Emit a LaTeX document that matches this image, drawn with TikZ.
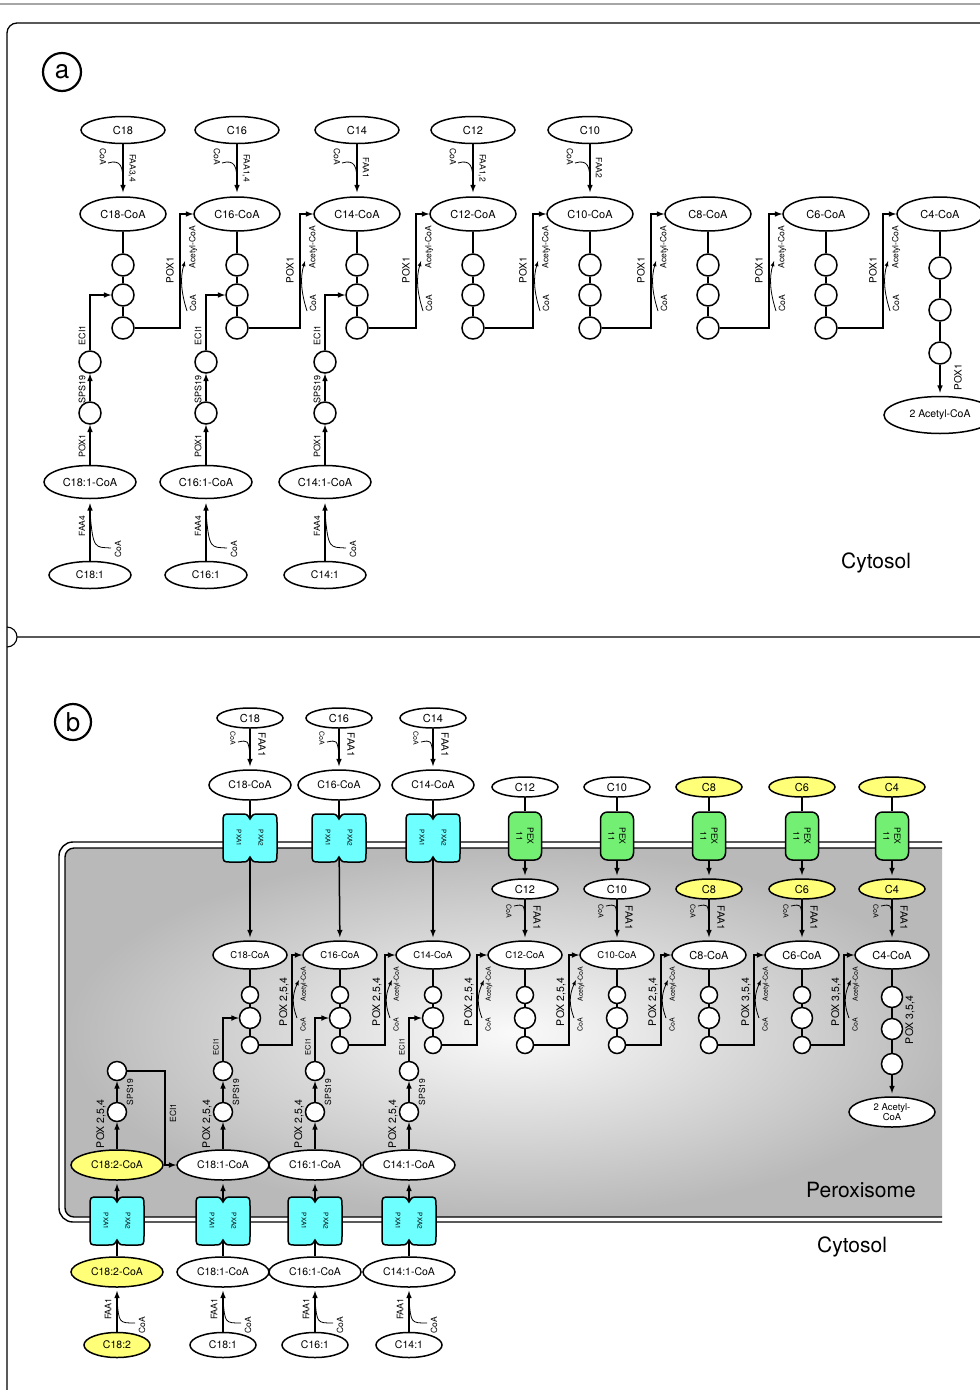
\documentclass[tikz,border=0pt]{standalone}
\usepackage{fontspec}
\setmainfont{TeX Gyre Heros}
\usetikzlibrary{shapes.geometric}

\definecolor{pxacyan}{RGB}{110,255,255}
\definecolor{pexgreen}{RGB}{115,240,115}
\definecolor{fayellow}{RGB}{255,255,120}
\newcommand{\fs}[1]{\fontsize{#1}{#1}\selectfont}

\begin{document}
\begin{tikzpicture}[x=1pt, y=-1pt,
  sub/.style={draw, ellipse, line width=1.5pt, inner sep=0pt, fill=white},
  circ/.style={draw, circle, line width=1.5pt, inner sep=0pt, fill=white},
  rxn/.style={-latex, line width=1.5pt},
  lnk/.style={line width=1.5pt},
  side/.style={line width=0.8pt},
  lab/.style={inner sep=0pt, font=\fs{8.5}}]
\useasboundingbox (0,0) rectangle (980,1390);

%%%%%%%%%%%%%-------------frame
\draw[gray!70, line width=1.5pt] (0,4) -- (980,4);
\draw[line width=1.3pt, rounded corners=10pt] (980,23) -- (7,23) -- (7,1390);
\draw[line width=1.1pt] (7,627) arc[start angle=-90, end angle=90, radius=10] (17,637) -- (980,637);

%%%%%%%%%%%%%-------------(a) cytosol
\node[draw, circle, line width=2.2pt, minimum size=38pt, inner sep=0pt, font=\fs{26}] (pa) at (62,72) {a};

\foreach \n/\x in {18/123, 16/237, 14/357, 12/473, 10/590, 8/708, 6/826, 4/940}{
\node[sub, minimum width=86pt, minimum height=34pt, font=\fs{11}] (acoa\n) at (\x,214) {C\n-CoA};}

\foreach \n/\x/\e in {18/123/{FAA3,4}, 16/237/{FAA1,4}, 14/357/FAA1, 12/473/{FAA1,2}, 10/590/FAA2}{
\node[sub, minimum width=84pt, minimum height=27pt, font=\fs{11}] (afa\n) at (\x,130) {C\n};
\draw[rxn, shorten >=4pt] (afa\n) -- (acoa\n);
\node[lab, rotate=-90] at (\x+9,168) {\e};
\node[lab, rotate=-90] at (\x-20,157) {CoA};
\draw[side] (\x-15,163) .. controls (\x-2,159) and (\x,167) .. (\x,182);
}

% beta-oxidation steps
\foreach \n/\x in {18/123, 16/237, 14/357, 12/473, 10/590, 8/708, 6/826}{
\node[circ, minimum size=22pt] (aca\n) at (\x,265) {};
\node[circ, minimum size=22pt] (acb\n) at (\x,295) {};
\node[circ, minimum size=22pt] (acc\n) at (\x,328) {};
\draw[lnk] (acoa\n) -- (aca\n) -- (acb\n) -- (acc\n);
}
\node[circ, minimum size=22pt] (aca4) at (940,268) {};
\node[circ, minimum size=22pt] (acb4) at (940,310) {};
\node[circ, minimum size=22pt] (acc4) at (940,353) {};
\draw[lnk] (acoa4) -- (aca4) -- (acb4) -- (acc4);
\node[sub, minimum width=112pt, minimum height=37pt, font=\fs{10.5}] (aace) at (940,415) {2 Acetyl-CoA};
\draw[rxn, shorten >=3pt] (acc4) -- (aace);
\node[lab, rotate=90, font=\fs{10}] at (958,377) {POX1};

\foreach \i/\j/\v in {18/16/180, 16/14/300, 14/12/416, 12/10/533, 10/8/651, 8/6/769, 6/4/883}{
\draw[rxn] (acc\i) -| (\v,214) -- (acoa\j);
\node[lab, rotate=90, font=\fs{10}] at (\v-10,270) {POX1};
\node[lab, rotate=90] at (\v+13,247) {Acetyl-CoA};
\node[lab, rotate=90] at (\v+13,303) {CoA};
\draw[side, -latex] (\v+7,311) .. controls (\v+1,292) and (\v,278) .. (\v+5,261);
}

% unsaturated
\foreach \n/\x in {18/90, 16/206, 14/325}{
\node[sub, minimum width=82pt, minimum height=27pt, font=\fs{10.5}] (au\n) at (\x,575) {C\n:1};
\node[sub, minimum width=92pt, minimum height=33pt, font=\fs{11}] (aucoa\n) at (\x,482) {C\n:1-CoA};
\node[circ, minimum size=22pt] (aup\n) at (\x,413) {};
\node[circ, minimum size=22pt] (aus\n) at (\x,362) {};
\draw[rxn, shorten >=4pt] (au\n) -- (aucoa\n);
\draw[rxn] (aucoa\n) -- (aup\n);
\draw[rxn] (aup\n) -- (aus\n);
\draw[rxn] (aus\n) |- (acb\n);
\node[lab, rotate=90] at (\x-8,526) {FAA4};
\node[lab, rotate=90] at (\x+28,549) {CoA};
\draw[side] (\x,512) .. controls (\x+3,550) and (\x+5,547) .. (\x+21,548);
\node[lab, rotate=90, font=\fs{9}] at (\x-8,446) {POX1};
\node[lab, rotate=90, font=\fs{9}] at (\x-8,389) {SPS19};
\node[lab, rotate=90, font=\fs{9}] at (\x-8,335) {ECI1};
}
\node[font=\fs{21}] (cyta) at (876,563) {Cytosol};

%%%%%%%%%%%%%-------------(b) peroxisome
\begin{scope}
\clip (0,640) rectangle (942,1390);
\shade[inner color=gray!4, outer color=gray!55, rounded corners=9pt] (65,848) rectangle (960,1217);
\draw[line width=1.4pt, rounded corners=9pt] (65,848) rectangle (960,1217);
\draw[line width=1.4pt, rounded corners=14pt] (59,842) rectangle (966,1222);
\end{scope}
\node[draw, circle, line width=2.2pt, minimum size=36pt, inner sep=0pt, font=\fs{26}] (pb) at (73,722) {b};
\node[font=\fs{21}] (perox) at (861,1190) {Peroxisome};
\node[font=\fs{21}] (cytb) at (852,1247) {Cytosol};

% transporters
\foreach \k/\x/\y in {t18/250/838, t16/339/838, t14/433/838, a/117/1221, b/223/1221, c/315/1221, d/409/1221}{
\draw[line width=1.5pt, fill=pxacyan] (\x,\y-19) .. controls (\x-3,\y-24) .. (\x-9,\y-24) -- (\x-19,\y-24)
  .. controls (\x-27,\y-24) .. (\x-27,\y-15) -- (\x-27,\y+15) .. controls (\x-27,\y+24) .. (\x-19,\y+24)
  -- (\x-9,\y+24) .. controls (\x-3,\y+24) .. (\x,\y+19) .. controls (\x+3,\y+24) .. (\x+9,\y+24)
  -- (\x+19,\y+24) .. controls (\x+27,\y+24) .. (\x+27,\y+15) -- (\x+27,\y-15)
  .. controls (\x+27,\y-24) .. (\x+19,\y-24) -- (\x+9,\y-24) .. controls (\x+3,\y-24) .. (\x,\y-19) -- cycle;
\node[minimum width=54pt, minimum height=38pt, inner sep=0pt] (bx\k) at (\x,\y) {};
\node[lab, rotate=-90, font=\fs{6.5}] at (\x-11,\y) {PXA1};
\node[lab, rotate=-90, font=\fs{6.5}] at (\x+11,\y) {PXA2};
}
\foreach \n/\x in {12/525, 10/617, 8/709, 6/802, 4/892}{
\node[draw, fill=pexgreen, line width=1.5pt, rounded corners=7pt, rotate=-90, minimum width=48pt,
  minimum height=33pt, inner sep=0pt, align=center, font=\fontsize{8.5}{11}\selectfont] (bpex\n) at (\x,836) {PEX\\11};
}

% inner acyl-CoA row
\foreach \n/\x/\f in {18/250/9.5, 16/340/9.5, 14/433/9.5, 12/525/9.5, 10/617/9.5, 8/709/11, 6/802/11, 4/892/11}{
\node[sub, minimum width=74pt, minimum height=28pt, font=\fs{\f}] (bcoa\n) at (\x,955) {C\n-CoA};}
\foreach \n/\x in {18/250, 16/340, 14/433, 12/525, 10/617, 8/709, 6/802}{
\node[circ, minimum size=17pt] (bca\n) at (\x,995) {};
\node[circ, minimum size=21pt] (bcb\n) at (\x,1018) {};
\node[circ, minimum size=17pt] (bcc\n) at (\x,1045) {};
\draw[lnk] (bcoa\n) -- (bca\n) -- (bcb\n) -- (bcc\n);
}
\node[circ, minimum size=21pt] (bca4) at (892,997) {};
\node[circ, minimum size=21pt] (bcb4) at (892,1029) {};
\node[circ, minimum size=21pt] (bcc4) at (892,1064) {};
\draw[lnk] (bcoa4) -- (bca4) -- (bcb4) -- (bcc4);
\node[sub, minimum width=86pt, minimum height=30pt, align=center, font=\fontsize{9.5}{10}\selectfont] (bace) at (892,1112) {2 Acetyl-\\CoA};
\draw[rxn, shorten >=3pt] (bcc4) -- (bace);
\node[lab, rotate=90, font=\fs{10.5}] at (910,1020) {POX 3,5,4};

\foreach \i/\j/\v/\p in {18/16/292/{2,5,4}, 16/14/385/{2,5,4}, 14/12/477/{2,5,4}, 12/10/569/{2,5,4}, 10/8/661/{2,5,4}, 8/6/754/{3,5,4}, 6/4/844/{3,5,4}}{
\draw[rxn] (bcc\i) -| (\v,955) -- (bcoa\j);
\node[lab, rotate=90, font=\fs{10.5}] at (\v-8,1002) {POX \p};
\node[lab, rotate=90, font=\fs{7}] at (\v+12,984) {Acetyl-CoA};
\node[lab, rotate=90, font=\fs{7}] at (\v+11,1025) {CoA};
\draw[side, -latex] (\v+5,1018) .. controls (\v,1005) and (\v,995) .. (\v+7,980);
}

% import of long chains
\foreach \n/\x in {18/250, 16/339, 14/433}{
\node[sub, minimum width=66pt, minimum height=20pt, font=\fs{11}] (bfa\n) at (\x,718) {C\n};
\node[sub, minimum width=82pt, minimum height=30pt, font=\fs{10.5}] (bcoao\n) at (\x,785) {C\n-CoA};
\draw[rxn, shorten >=3pt] (bfa\n) -- (bcoao\n);
\draw[lnk] (bcoao\n) -- (bxt\n);
\draw[rxn, shorten >=3pt] (bxt\n) -- (bcoa\n);
\node[lab, rotate=-90, font=\fs{10}] at (\x+12,745) {FAA1};
\node[lab, rotate=-90, font=\fs{7}] at (\x-17,738) {CoA};
\draw[side] (\x-12,742) .. controls (\x-2,740) .. (\x,754);
}

% import of medium and short chains
\foreach \n/\x/\col in {12/525/white, 10/617/white, 8/709/fayellow, 6/802/fayellow, 4/892/fayellow}{
\node[sub, fill=\col, minimum width=66pt, minimum height=20pt, font=\fs{11}] (bpt\n) at (\x,787) {C\n};
\node[sub, fill=\col, minimum width=66pt, minimum height=20pt, font=\fs{11}] (bpi\n) at (\x,889) {C\n};
\draw[lnk] (bpt\n) -- (bpex\n);
\draw[rxn, shorten >=3pt] (bpex\n) -- (bpi\n);
\draw[rxn, shorten >=3pt] (bpi\n) -- (bcoa\n);
\node[lab, rotate=-90, font=\fs{10}] at (\x+12,918) {FAA1};
\node[lab, rotate=-90, font=\fs{7}] at (\x-16,911) {CoA};
\draw[side] (\x-11,906) .. controls (\x-1,904) .. (\x,918);
}

% unsaturated
\foreach \k/\cn/\x/\col in {a/18:2/117/fayellow, b/18:1/223/white, c/16:1/315/white, d/14:1/409/white}{
\node[sub, fill=\col, minimum width=66pt, minimum height=25pt, font=\fs{10.5}] (bf\k) at (\x,1345) {C\cn};
\node[sub, fill=\col, minimum width=92pt, minimum height=30pt, font=\fs{10.5}] (bo\k) at (\x,1272) {C\cn-CoA};
\node[sub, fill=\col, minimum width=92pt, minimum height=30pt, font=\fs{10.5}] (bi\k) at (\x,1165) {C\cn-CoA};
\node[circ, minimum size=19pt] (bp\k) at (\x,1112) {};
\node[circ, minimum size=19pt] (bs\k) at (\x,1071) {};
\draw[rxn, shorten >=3pt] (bf\k) -- (bo\k);
\draw[lnk] (bo\k) -- (bx\k);
\draw[rxn, shorten >=3pt] (bx\k) -- (bi\k);
\draw[rxn] (bi\k) -- (bp\k);
\draw[rxn] (bp\k) -- (bs\k);
\node[lab, rotate=90, font=\fs{9}] at (\x-9,1309) {FAA1};
\node[lab, rotate=90] at (\x+25,1325) {CoA};
\draw[side] (\x,1300) .. controls (\x+2,1323) .. (\x+18,1323);
\node[lab, rotate=90, font=\fs{10.5}] at (\x-16,1124) {POX 2,5,4};
\node[lab, rotate=90] at (\x+13,1092) {SPS19};
}
\draw[rxn] (bsa) -| (165,1165) -- (bib);
\node[lab, rotate=90] at (173,1113) {ECI1};
\foreach \k/\n/\x in {b/18/223, c/16/315, d/14/409}{
\draw[rxn] (bs\k) |- (bcb\n);
\node[lab, rotate=90, font=\fs{7.5}] at (\x-7,1047) {ECI1};
}

\end{tikzpicture}
\end{document}
